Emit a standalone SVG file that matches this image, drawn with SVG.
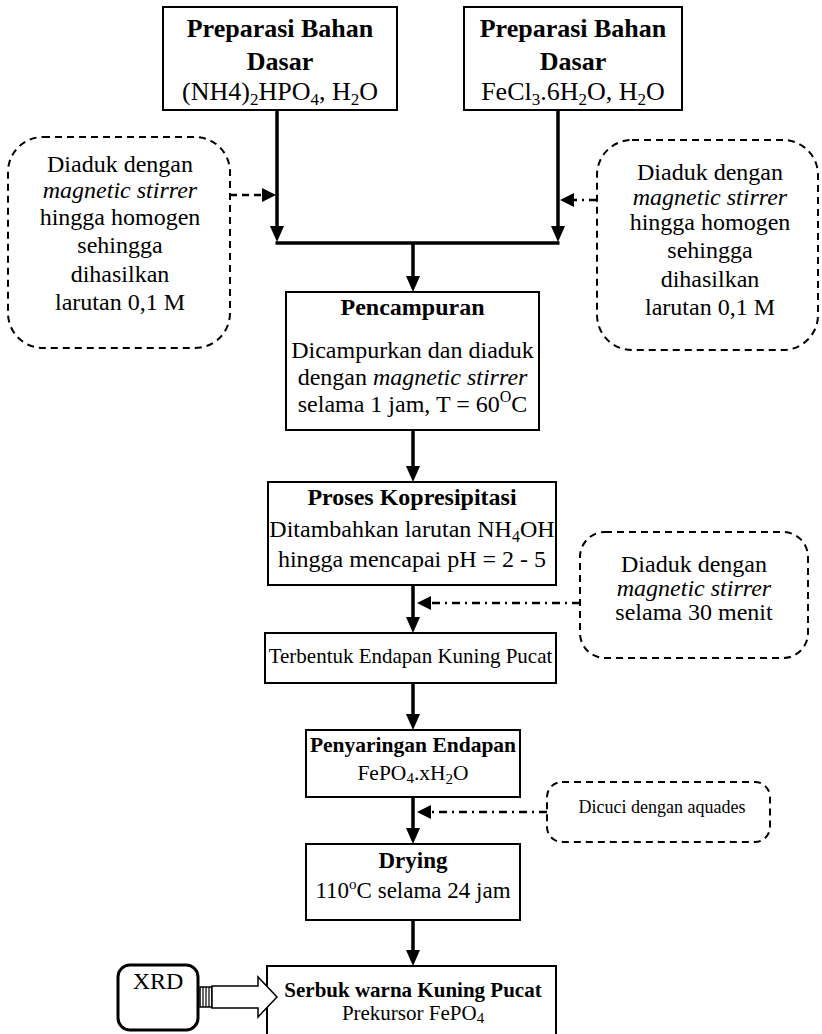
<svg xmlns="http://www.w3.org/2000/svg" width="822" height="1034" viewBox="0 0 822 1034">
<defs>
<style>
text{font-family:"Liberation Serif","Times New Roman",serif;fill:#000;text-anchor:middle}
.b{font-weight:bold}
.i{font-style:italic}
.box{fill:#fff;stroke:#000;stroke-width:2}
.dbox{fill:none;stroke:#000;stroke-width:2;stroke-dasharray:7,5}
.flow{stroke:#000;stroke-width:3.5;fill:none}
.dash{stroke:#000;stroke-width:2.5;fill:none;stroke-dasharray:7,5}
.dd{stroke:#000;stroke-width:2.5;fill:none;stroke-dasharray:8,5,2,5}
</style>
<marker id="ah" viewBox="0 0 16 14" refX="0" refY="7" markerWidth="16" markerHeight="14" markerUnits="userSpaceOnUse" orient="auto">
<path d="M0,0 L16,7 L0,14 z" fill="#000"/>
</marker>
<marker id="ahs" viewBox="0 0 14 14" refX="0" refY="7" markerWidth="14" markerHeight="14" markerUnits="userSpaceOnUse" orient="auto">
<path d="M0,0 L14,7 L0,14 z" fill="#000"/>
</marker>
</defs>
<rect width="822" height="1034" fill="#fff"/>

<g id="connectors">
<line class="flow" x1="277" y1="110" x2="277" y2="226" marker-end="url(#ah)"/>
<line class="flow" x1="558" y1="110" x2="558" y2="226" marker-end="url(#ah)"/>
<line class="flow" x1="275.5" y1="243" x2="559.5" y2="243"/>
<line class="flow" x1="413" y1="243" x2="413" y2="276" marker-end="url(#ah)"/>
<line class="flow" x1="413" y1="430" x2="413" y2="466" marker-end="url(#ah)"/>
<line class="flow" x1="413" y1="585" x2="413" y2="617" marker-end="url(#ah)"/>
<line class="flow" x1="413" y1="683" x2="413" y2="714" marker-end="url(#ah)"/>
<line class="flow" x1="413" y1="797" x2="413" y2="828" marker-end="url(#ah)"/>
<line class="flow" x1="413" y1="920" x2="413" y2="950" marker-end="url(#ah)"/>
<line class="dash" x1="230" y1="195" x2="262" y2="195" marker-end="url(#ahs)"/>
<line class="dd" x1="597" y1="200" x2="574" y2="200" marker-end="url(#ahs)"/>
<line class="dd" x1="580" y1="603" x2="431" y2="603" marker-end="url(#ahs)"/>
<line class="dd" x1="547" y1="812" x2="431" y2="812" marker-end="url(#ahs)"/>
<g id="xrd-arrow">
<rect x="200" y="987" width="12" height="20" fill="#fff" stroke="#000" stroke-width="1.5"/>
<line x1="203" y1="987" x2="203" y2="1007" stroke="#000" stroke-width="1.2"/>
<line x1="206" y1="987" x2="206" y2="1007" stroke="#000" stroke-width="1.2"/>
<line x1="209" y1="987" x2="209" y2="1007" stroke="#000" stroke-width="1.2"/>
</g>
</g>

<g id="prep1">
<rect class="box" x="163" y="7" width="234" height="103"/>
<text class="b" x="280" y="37" font-size="26">Preparasi Bahan</text>
<text class="b" x="280" y="70" font-size="26">Dasar</text>
<text x="280" y="100" font-size="26">(NH4)<tspan font-size="17" dy="5">2</tspan><tspan dy="-5">HPO</tspan><tspan font-size="17" dy="5">4</tspan><tspan dy="-5">, H</tspan><tspan font-size="17" dy="5">2</tspan><tspan dy="-5">O</tspan></text>
</g>

<g id="prep2">
<rect class="box" x="464" y="7" width="218" height="103"/>
<text class="b" x="573" y="37" font-size="26">Preparasi Bahan</text>
<text class="b" x="573" y="70" font-size="26">Dasar</text>
<text x="573" y="100" font-size="26">FeCl<tspan font-size="17" dy="5">3</tspan><tspan dy="-5">.6H</tspan><tspan font-size="17" dy="5">2</tspan><tspan dy="-5">O, H</tspan><tspan font-size="17" dy="5">2</tspan><tspan dy="-5">O</tspan></text>
</g>

<g id="note-left">
<rect class="dbox" x="8" y="137" width="222" height="211" rx="35"/>
<text x="120" y="172" font-size="24">Diaduk dengan</text>
<text class="i" x="120" y="198" font-size="24">magnetic stirrer</text>
<text x="120" y="225" font-size="24">hingga homogen</text>
<text x="120" y="253" font-size="24">sehingga</text>
<text x="120" y="282" font-size="24">dihasilkan</text>
<text x="120" y="310" font-size="24">larutan 0,1 M</text>
</g>

<g id="note-right">
<rect class="dbox" x="597" y="140" width="221" height="210" rx="35"/>
<text x="710" y="180" font-size="24">Diaduk dengan</text>
<text class="i" x="710" y="205" font-size="24">magnetic stirrer</text>
<text x="710" y="230" font-size="24">hingga homogen</text>
<text x="710" y="258" font-size="24">sehingga</text>
<text x="710" y="287" font-size="24">dihasilkan</text>
<text x="710" y="315" font-size="24">larutan 0,1 M</text>
</g>

<g id="pencampuran">
<rect class="box" x="286" y="292" width="253" height="138"/>
<text class="b" x="412.5" y="315" font-size="24">Pencampuran</text>
<text x="412.5" y="358" font-size="24">Dicampurkan dan diaduk</text>
<text x="412.5" y="385" font-size="24">dengan <tspan font-style="italic">magnetic stirrer</tspan></text>
<text x="412.5" y="412" font-size="24">selama 1 jam, T = 60<tspan font-size="16" dy="-10">O</tspan><tspan dy="10">C</tspan></text>
</g>

<g id="kopresipitasi">
<rect class="box" x="268" y="482" width="288" height="103"/>
<text class="b" x="412" y="505" font-size="24">Proses Kopresipitasi</text>
<text x="412" y="537" font-size="24">Ditambahkan larutan NH<tspan font-size="16" dy="5">4</tspan><tspan dy="-5">OH</tspan></text>
<text x="412" y="567" font-size="24">hingga mencapai pH = 2 - 5</text>
</g>

<g id="note-30">
<rect class="dbox" x="580" y="532" width="228" height="126" rx="25"/>
<text x="694" y="572" font-size="24">Diaduk dengan</text>
<text class="i" x="694" y="596" font-size="24">magnetic stirrer</text>
<text x="694" y="620" font-size="24">selama 30 menit</text>
</g>

<g id="endapan">
<rect class="box" x="265" y="633" width="291" height="50"/>
<text x="410.5" y="663" font-size="21">Terbentuk Endapan Kuning Pucat</text>
</g>

<g id="penyaringan">
<rect class="box" x="306" y="730" width="214" height="67"/>
<text class="b" x="413" y="752" font-size="21.5">Penyaringan Endapan</text>
<text x="413" y="780" font-size="21.5">FePO<tspan font-size="15" dy="3">4</tspan><tspan dy="-3">.xH</tspan><tspan font-size="15" dy="4">2</tspan><tspan dy="-4">O</tspan></text>
</g>

<g id="note-aquades">
<rect class="dbox" x="547" y="782" width="223" height="60" rx="15"/>
<text x="662" y="813" font-size="18">Dicuci dengan aquades</text>
</g>

<g id="drying">
<rect class="box" x="306" y="844" width="214" height="76"/>
<text class="b" x="413" y="868" font-size="23">Drying</text>
<text x="413" y="898" font-size="23">110<tspan font-size="15" dy="-9">o</tspan><tspan dy="9">C selama 24 jam</tspan></text>
</g>

<g id="serbuk">
<rect class="box" x="267" y="966" width="289" height="90"/>
<text class="b" x="413" y="997" font-size="21">Serbuk warna Kuning Pucat</text>
<text x="413" y="1020" font-size="21">Prekursor FePO<tspan font-size="15" dy="3">4</tspan></text>
</g>

<g id="xrd">
<rect x="118" y="965" width="80" height="65" rx="12" fill="#fff" stroke="#000" stroke-width="3"/>
<text x="158" y="989" font-size="24">XRD</text>
</g>

<path d="M212,986 L258,986 L258,977 L277,997 L258,1017 L258,1008 L212,1008 z" fill="#fff" stroke="#000" stroke-width="1.5"/>
</svg>
